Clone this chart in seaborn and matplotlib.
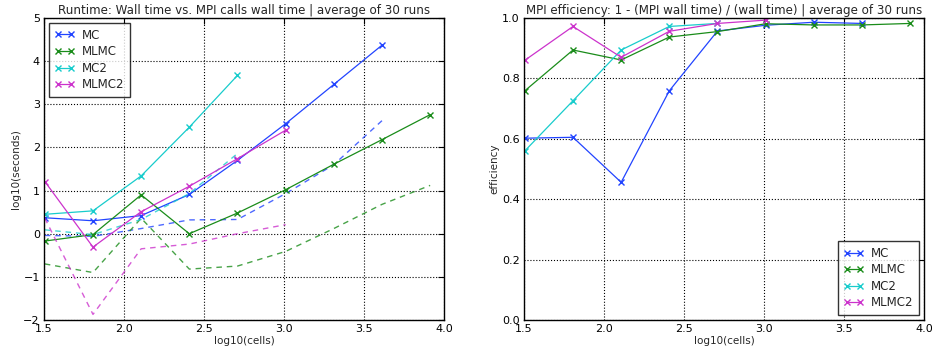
import numpy as np
import pandas as pd
import matplotlib
matplotlib.use("Agg")
import matplotlib.pyplot as plt
import seaborn as sns

# Problem sizes (number of cells) for each run configuration
cells = [32, 64, 128, 256, 512, 1024, 2048, 4096, 8192]

# log10 of total wall time (seconds), averaged over 30 runs
mc_wall = [0.37, 0.30, 0.42, 0.91, 1.70, 2.55, 3.46, 4.37]
mlmc_wall = [-0.17, -0.02, 0.90, 0.00, 0.48, 1.02, 1.61, 2.18, 2.76]
mc2_wall = [0.45, 0.53, 1.34, 2.47, 3.67]
mlmc2_wall = [1.21, -0.31, 0.51, 1.10, 1.74, 2.40]

# log10 of wall time spent inside MPI calls (seconds)
mc_mpi = [-0.04, -0.06, 0.12, 0.32, 0.33, 0.93, 1.60, 2.62]
mlmc_mpi = [-0.70, -0.90, 0.36, -0.82, -0.75, -0.41, 0.12, 0.68, 1.12]
mc2_mpi = [0.09, -0.02, 0.33, 0.93, 1.86]
mlmc2_mpi = [0.36, -1.87, -0.35, -0.24, 0.00, 0.21]

# MPI efficiency: 1 - (MPI wall time) / (wall time)
mc_eff = [0.602, 0.605, 0.456, 0.759, 0.957, 0.976, 0.986, 0.982]
mlmc_eff = [0.759, 0.894, 0.861, 0.937, 0.955, 0.981, 0.977, 0.977, 0.982]
mc2_eff = [0.56, 0.726, 0.894, 0.972, 0.982]
mlmc2_eff = [0.86, 0.972, 0.87, 0.956, 0.982, 0.993]

methods = ["MC", "MLMC", "MC2", "MLMC2"]
colors = {"MC": "#2244ff", "MLMC": "#1a8c1a", "MC2": "#18cccc", "MLMC2": "#cc33cc"}
wall = {"MC": mc_wall, "MLMC": mlmc_wall, "MC2": mc2_wall, "MLMC2": mlmc2_wall}
mpi = {"MC": mc_mpi, "MLMC": mlmc_mpi, "MC2": mc2_mpi, "MLMC2": mlmc2_mpi}
eff = {"MC": mc_eff, "MLMC": mlmc_eff, "MC2": mc2_eff, "MLMC2": mlmc2_eff}

logcells = np.log10(cells)

sns.set_theme(style="white")
plt.rcParams.update({
    "font.family": ["DejaVu Sans"],
    "font.size": 8,
    "axes.edgecolor": "black",
    "axes.linewidth": 1.0,
    "xtick.direction": "in",
    "ytick.direction": "in",
    "xtick.top": True,
    "ytick.right": True,
    "xtick.major.size": 4,
    "ytick.major.size": 4,
    "xtick.color": "black",
    "ytick.color": "black",
    "xtick.labelsize": 8,
    "ytick.labelsize": 8,
    "axes.labelsize": 7.5,
    "axes.titlesize": 8.6,
    "axes.unicode_minus": True,
})

fig = plt.figure(figsize=(9.32, 3.5), dpi=100)
ax1 = fig.add_axes([44 / 932, 1 - 320 / 350, 400 / 932, 302 / 350])
ax2 = fig.add_axes([524 / 932, 1 - 320 / 350, 400 / 932, 302 / 350])

line_kw = dict(marker="x", markersize=5, markeredgewidth=1.0, linewidth=0.9)

for m in methods:
    n = len(wall[m])
    df = pd.DataFrame({"log10(cells)": logcells[:n], "wall": wall[m], "mpi": mpi[m]})
    sns.lineplot(data=df, x="log10(cells)", y="wall", ax=ax1, color=colors[m],
                 label=m, markeredgecolor=colors[m], **line_kw)
    sns.lineplot(data=df, x="log10(cells)", y="mpi", ax=ax1, color=colors[m],
                 dashes=False, linewidth=1.0, alpha=0.8, label="_nolegend_")
    ax1.lines[-1].set_dashes((4, 3.5))

for m in methods:
    n = len(eff[m])
    df = pd.DataFrame({"log10(cells)": logcells[:n], "efficiency": eff[m]})
    sns.lineplot(data=df, x="log10(cells)", y="efficiency", ax=ax2, color=colors[m],
                 label=m, markeredgecolor=colors[m], **line_kw)

grid_kw = dict(color="black", linestyle=":", linewidth=0.8)
leg_kw = dict(numpoints=2, fancybox=False, frameon=True, fontsize=8.5,
              borderpad=0.45, handlelength=1.7, handletextpad=0.6,
              labelspacing=0.3, borderaxespad=0.45)

ax1.set_xlim(1.5, 4.0)
ax1.set_ylim(-2, 5)
ax1.set_xticks(np.arange(1.5, 4.01, 0.5))
ax1.set_xticklabels(["1.5", "2.0", "2.5", "3.0", "3.5", "4.0"])
ax1.set_yticks(range(-2, 6))
ax1.grid(True, **grid_kw)
ax1.set_xlabel("log10(cells)", labelpad=1)
ax1.set_ylabel("log10(seconds)", labelpad=2)
ax1.set_title("Runtime: Wall time vs. MPI calls wall time | average of 30 runs", pad=3)
leg1 = ax1.legend(loc="upper left", **leg_kw)

ax2.set_xlim(1.5, 4.0)
ax2.set_ylim(0.0, 1.0)
ax2.set_xticks(np.arange(1.5, 4.01, 0.5))
ax2.set_xticklabels(["1.5", "2.0", "2.5", "3.0", "3.5", "4.0"])
ax2.set_yticks(np.arange(0, 1.01, 0.2))
ax2.set_yticklabels(["0.0", "0.2", "0.4", "0.6", "0.8", "1.0"])
ax2.grid(True, **grid_kw)
ax2.set_xlabel("log10(cells)", labelpad=1)
ax2.set_ylabel("efficiency", labelpad=2)
ax2.set_title("MPI efficiency: 1 - (MPI wall time) / (wall time) | average of 30 runs", pad=3)
leg2 = ax2.legend(loc="lower right", **leg_kw)

for leg in (leg1, leg2):
    leg.get_frame().set_edgecolor("black")
    leg.get_frame().set_linewidth(1.0)

for ax in (ax1, ax2):
    for s in ax.spines.values():
        s.set_visible(True)
        s.set_color("black")
    ax.tick_params(axis="both", which="major", pad=3, width=0.8)

fig.savefig("out.png", dpi=100)
